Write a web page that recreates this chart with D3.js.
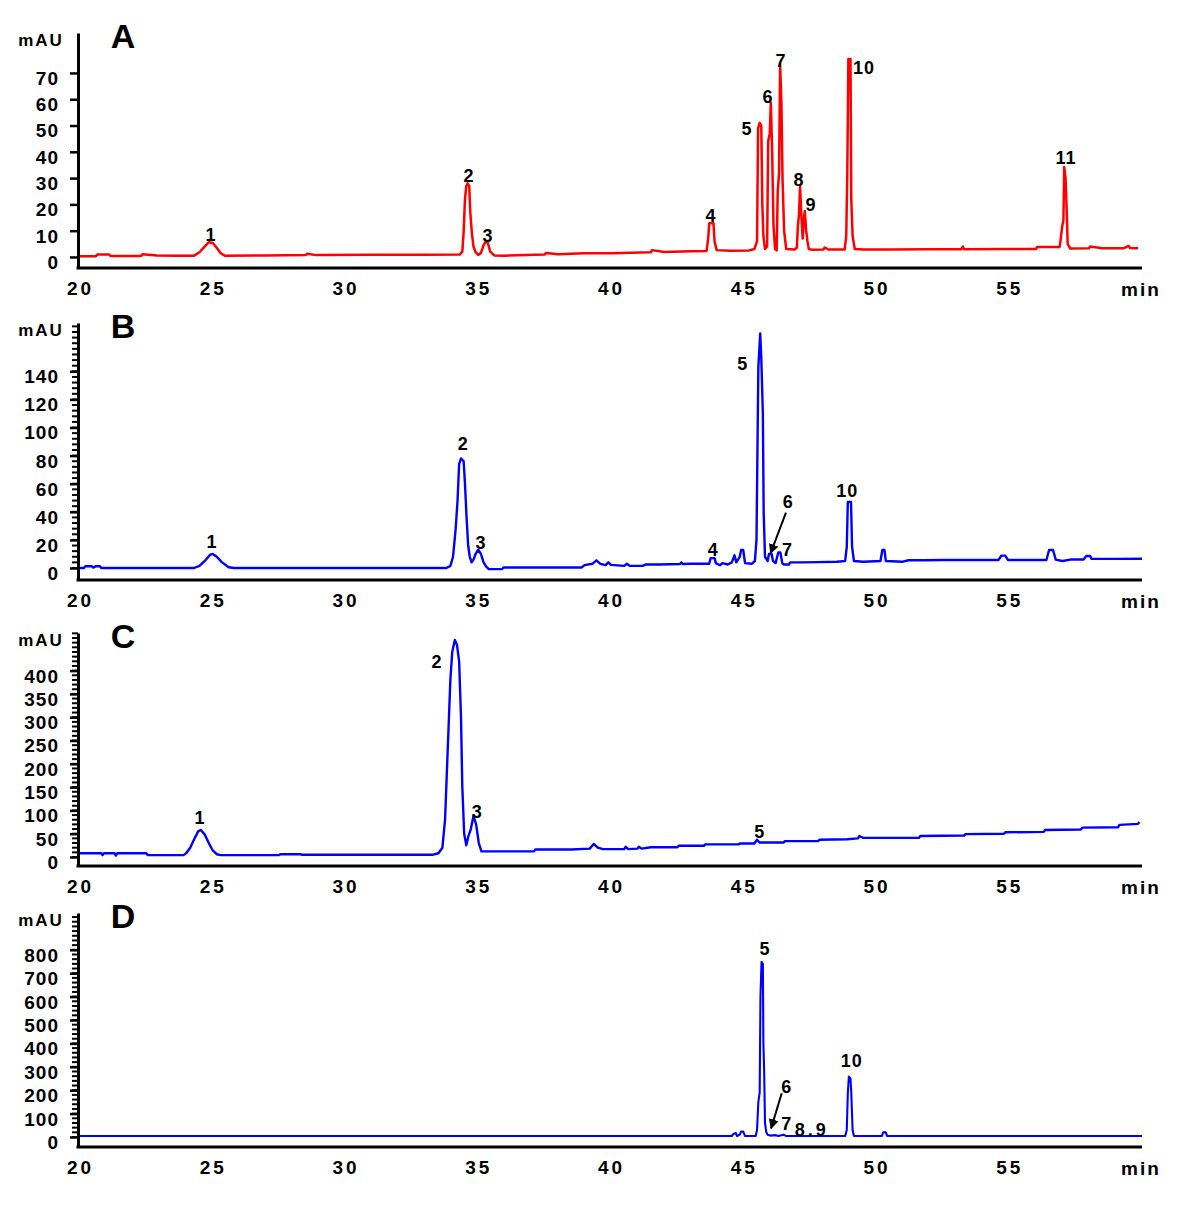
<!DOCTYPE html>
<html>
<head>
<meta charset="utf-8">
<script src="https://cdn.jsdelivr.net/npm/d3@7"></script>
<style>
  body { margin: 0; background: #fff; }
  svg { display: block; font-family: "Liberation Sans", Arial, sans-serif; font-weight: bold; }
  .axis path, .axis line { stroke: #000; }
  .axis text { font-size: 19px; font-weight: bold; fill: #000; font-family: "Liberation Sans", Arial, sans-serif; }
</style>
</head>
<body>
<div id="chart"></div>
<script>
// ---------------------------------------------------------------------------
// Data: [time (min), absorbance (mAU)]
// ---------------------------------------------------------------------------

const xTicks = [20, 25, 30, 35, 40, 45, 50, 55];

const traceA = [
  [20.0, 0.3], [20.6, 0.3], [20.65, 0.9], [21.1, 0.9], [21.15, 0.4], [22.3, 0.4], [22.35, 1.0], [22.9, 0.6],
  [23.6, 0.5], [24.3, 0.5], [24.5, 1.8], [24.7, 4.0], [24.85, 5.6], [25.0, 5.3], [25.15, 3.5], [25.3, 1.4],
  [25.45, 0.5], [27.0, 0.6], [28.5, 0.7], [28.55, 1.2], [28.9, 0.7], [31.0, 0.8], [33.0, 0.8], [34.3, 0.9],
  [34.4, 2.0], [34.45, 9.5], [34.5, 22], [34.55, 27], [34.6, 28], [34.66, 27], [34.7, 17], [34.76, 9],
  [34.82, 4], [34.9, 1.8], [35.0, 0.8], [35.1, 1.5], [35.2, 4.5], [35.28, 5.8], [35.36, 5.3], [35.45, 2],
  [35.6, 0.6], [36.0, 0.5], [37.5, 0.9], [37.55, 1.5], [38.0, 1.0], [39.0, 1.4], [40.0, 1.4], [41.5, 1.8],
  [41.55, 2.6], [42.0, 1.9], [43.0, 2.2], [43.6, 2.3], [43.66, 7], [43.7, 12.8], [43.86, 12.8], [43.9, 6],
  [43.98, 2.6], [44.5, 2.4], [45.2, 2.5], [45.4, 3.0], [45.5, 6], [45.54, 49], [45.6, 51], [45.66, 50],
  [45.7, 20], [45.74, 8], [45.8, 3], [45.88, 4], [45.92, 44], [45.98, 47], [46.02, 58.7], [46.07, 40],
  [46.12, 12], [46.18, 3], [46.24, 2.5], [46.28, 25], [46.33, 32], [46.37, 73], [46.42, 58], [46.46, 30],
  [46.52, 10], [46.6, 3], [46.9, 2.8], [47.0, 3.5], [47.04, 12], [47.08, 16], [47.12, 27], [47.17, 16],
  [47.22, 7], [47.26, 14], [47.3, 17.5], [47.35, 10], [47.4, 6], [47.45, 3], [47.6, 2.7], [48.0, 2.8],
  [48.05, 3.6], [48.2, 2.8], [48.8, 2.8], [48.86, 8], [48.9, 32], [48.94, 75.3], [49.02, 75.3], [49.05, 22],
  [49.1, 8], [49.18, 3], [49.5, 2.8], [50.5, 2.8], [52.0, 2.9], [53.2, 2.9], [53.25, 4], [53.3, 2.9],
  [55.0, 3.0], [56.0, 3.0], [56.05, 3.8], [56.9, 3.8], [57.0, 12], [57.04, 14], [57.07, 34.2], [57.12, 30],
  [57.16, 19], [57.2, 5], [57.3, 3.2], [58.0, 3.3], [58.05, 4.0], [58.5, 3.3], [59.3, 3.3], [59.5, 4.2],
  [59.55, 3.4], [59.85, 3.3]
];

const traceB = [
  [20.0, 0], [20.15, 0], [20.2, 1.2], [20.45, 1.2], [20.5, 0.3], [20.6, 1.3], [20.75, 1.3], [20.8, 0],
  [24.3, 0], [24.5, 1.5], [24.7, 5], [24.9, 9.5], [25.0, 10], [25.15, 8], [25.35, 4], [25.6, 0.5],
  [25.8, 0], [33.8, 0], [33.95, 1.5], [34.05, 8], [34.15, 28], [34.22, 48], [34.28, 74], [34.35, 78],
  [34.45, 76], [34.5, 60], [34.56, 36], [34.62, 16], [34.68, 8], [34.75, 4], [34.82, 6], [34.9, 10],
  [35.0, 13], [35.1, 10], [35.2, 4], [35.3, 1], [35.4, -0.8], [35.9, -0.8], [35.95, 0.4], [38.9, 0.4],
  [39.0, 2], [39.3, 3], [39.45, 5.5], [39.6, 3], [39.8, 2], [39.9, 4], [40.0, 2.2], [40.5, 1.5],
  [40.6, 3], [40.7, 1.5], [41.2, 1.5], [41.3, 2.5], [41.8, 2.5], [42.6, 2.8], [42.65, 4], [42.7, 2.8],
  [43.0, 3.0], [43.7, 3.0], [43.75, 7], [43.9, 7], [43.95, 3.5], [44.1, 2], [44.2, 3.5], [44.4, 2.5],
  [44.55, 4], [44.65, 9], [44.72, 4], [44.85, 8], [44.9, 12.8], [44.98, 12.8], [45.05, 3.5], [45.3, 3],
  [45.42, 5], [45.48, 20], [45.55, 143], [45.62, 167], [45.66, 150], [45.72, 110], [45.75, 40], [45.8, 8],
  [45.9, 5], [45.95, 10], [46.05, 10], [46.1, 5], [46.2, 3.5], [46.3, 11], [46.38, 11], [46.45, 3.5],
  [46.5, 2.5], [46.7, 2.5], [46.75, 4], [47.2, 4], [47.8, 4.2], [48.5, 4.5], [48.82, 5], [48.88, 15],
  [48.92, 47], [49.04, 47], [49.08, 15], [49.15, 5], [49.5, 4.5], [50.15, 5], [50.22, 12.8], [50.3, 12.8],
  [50.35, 5], [51.0, 4.5], [51.2, 5.5], [51.8, 5.5], [52.5, 5.7], [54.6, 5.7], [54.7, 8.8], [54.85, 8.8],
  [54.95, 5.7], [56.4, 5.7], [56.5, 12.8], [56.65, 12.8], [56.75, 6], [57.0, 5], [57.3, 6], [57.8, 6],
  [57.9, 8.5], [58.05, 8.5], [58.1, 6.5], [59.0, 6.5], [60.0, 6.6]
];

const traceC = [
  [20.0, 8], [20.8, 8], [20.85, 4], [20.9, 8], [21.3, 8], [21.35, 3], [21.4, 8], [22.5, 8],
  [22.55, 4], [23.9, 4], [24.0, 8], [24.15, 20], [24.3, 38], [24.45, 55], [24.55, 58], [24.7, 48],
  [24.85, 30], [25.0, 14], [25.15, 6], [25.3, 4], [27.5, 4], [27.55, 6], [28.3, 6], [28.35, 5],
  [33.3, 5], [33.5, 8], [33.65, 20], [33.75, 80], [33.85, 230], [33.95, 380], [34.02, 440], [34.12, 466],
  [34.2, 455], [34.28, 420], [34.35, 300], [34.4, 150], [34.47, 50], [34.55, 25], [34.63, 45], [34.72, 60],
  [34.82, 88], [34.92, 70], [35.02, 30], [35.12, 12], [35.3, 12], [37.1, 12], [37.15, 16], [38.5, 16],
  [39.2, 18], [39.35, 28], [39.5, 20], [39.7, 17], [40.5, 17], [40.55, 22], [40.65, 17], [41.0, 18],
  [41.05, 22], [41.15, 18], [41.5, 21], [42.5, 21], [42.55, 24], [43.5, 24], [43.55, 27], [44.8, 27],
  [44.85, 29], [45.4, 29], [45.5, 37], [45.6, 31], [46.5, 31], [46.55, 34], [47.8, 34], [47.85, 37],
  [48.9, 38], [49.3, 40], [49.35, 45], [49.5, 41], [51.6, 41], [51.65, 45], [53.3, 46], [53.35, 49],
  [54.8, 50], [54.85, 53], [56.3, 54], [56.35, 58], [57.7, 59], [57.75, 63], [59.1, 64], [59.15, 69],
  [59.85, 71], [59.9, 75]
];

const traceD = [
  [20.0, 4], [44.55, 4], [44.6, 12], [44.7, 17], [44.75, 4], [44.85, 10], [44.9, 23], [44.98, 23],
  [45.05, 4], [45.45, 4], [45.5, 30], [45.55, 150], [45.6, 190], [45.63, 600], [45.67, 749], [45.72, 740],
  [45.74, 400], [45.77, 274], [45.8, 60], [45.85, 20], [45.9, 10], [46.0, 6], [46.2, 8], [46.3, 4],
  [46.5, 10], [46.6, 4], [48.82, 4], [48.88, 30], [48.92, 188], [48.96, 258], [49.02, 250], [49.05, 188],
  [49.1, 30], [49.15, 4], [50.2, 4], [50.25, 20], [50.35, 20], [50.4, 4], [60.0, 4]
];

const ticksA = [0, 10, 20, 30, 40, 50, 60, 70];
const ticksB = [0, 20, 40, 60, 80, 100, 120, 140];
const ticksC = [0, 50, 100, 150, 200, 250, 300, 350, 400];
const ticksD = [0, 100, 200, 300, 400, 500, 600, 700, 800];

// peak numbers: [label, time, mAU]
const peaksA = [["1", 24.93, 8.7], ["2", 34.65, 30.8], ["3", 35.37, 8.0], ["4", 43.77, 15.6], ["5", 45.12, 48.7],
  ["6", 45.91, 61.2], ["7", 46.40, 74.9], ["8", 47.08, 29.3], ["9", 47.53, 19.8], ["10", 49.53, 72.2], ["11", 57.14, 38.0]];
const peaksB = [["1", 24.97, 19.2], ["2", 34.44, 88.3], ["3", 35.1, 18.0], ["4", 43.85, 13.3], ["5", 44.96, 145.7],
  ["6", 46.68, 47.2], ["7", 46.65, 13.3], ["10", 48.9, 55.5]];
const peaksC = [["1", 24.52, 83.7], ["2", 33.45, 420], ["3", 34.96, 97], ["5", 45.6, 54]];
const peaksD = [["5", 45.8, 806], ["6", 46.62, 215], ["7", 46.62, 56], ["8.9", 47.56, 30], ["10", 49.07, 326]];

// arrows: [fromTime, fromMAU, toTime, toMAU]
const arrowsB = [[46.59, 39.4, 46.01, 10.5]];
const arrowsD = [[46.43, 187, 46.03, 37]];

// ---------------------------------------------------------------------------
// Layout
// ---------------------------------------------------------------------------

const width = 1200, height = 1224;
const axisX = 78;

const panels = [
  {letter: "A", trace: traceA, ticks: ticksA, minor: null, peaks: peaksA, arrows: [], color: "#ff0000",
   top: 33, bottom: 268, yDomain: [-4.2, 85.2], lw: 2.5},
  {letter: "B", trace: traceB, ticks: ticksB, minor: 4, peaks: peaksB, arrows: arrowsB, color: "#0000ff",
   top: 323, bottom: 580, yDomain: [-8.54, 174.4], lw: 2.4},
  {letter: "C", trace: traceC, ticks: ticksC, minor: 10, peaks: peaksC, arrows: [], color: "#0000ff",
   top: 633, bottom: 866, yDomain: [-19.3, 480.7], lw: 2.4},
  {letter: "D", trace: traceD, ticks: ticksD, minor: 20, peaks: peaksD, arrows: arrowsD, color: "#0000ff",
   top: 913, bottom: 1147, yDomain: [-42.7, 957.3], lw: 2.1}
];

const svg = d3.select("#chart").append("svg")
  .attr("width", width)
  .attr("height", height);

svg.append("rect").attr("width", width).attr("height", height).attr("fill", "#fff");

svg.append("defs").append("marker")
  .attr("id", "arrowhead")
  .attr("viewBox", "0 0 10 10")
  .attr("refX", 9).attr("refY", 5)
  .attr("markerWidth", 5).attr("markerHeight", 5)
  .attr("markerUnits", "strokeWidth")
  .attr("orient", "auto")
  .append("path")
  .attr("d", "M0,0L10,5L0,10z")
  .attr("fill", "#000");

const x = d3.scaleLinear().domain([20, 60]).range([80, 1142]);

panels.forEach(function(p) {
  const y = d3.scaleLinear().domain(p.yDomain).range([p.bottom, p.top]);
  const g = svg.append("g");

  // minor ticks on the y axis (dense ruler marks)
  if (p.minor) {
    g.append("g")
      .selectAll("line")
      .data(d3.range(0, p.yDomain[1], p.minor))
      .join("line")
      .attr("x1", axisX - 6).attr("x2", axisX)
      .attr("y1", d => y(d)).attr("y2", d => y(d))
      .attr("stroke", "#000")
      .attr("stroke-width", 2);
  }

  // major ticks + labels
  g.append("g")
    .attr("class", "axis")
    .attr("transform", "translate(" + axisX + ",0)")
    .call(d3.axisLeft(y).tickValues(p.ticks).tickSize(8).tickSizeOuter(0).tickPadding(11))
    .call(s => s.select(".domain").attr("stroke-width", 3))
    .call(s => s.selectAll("line").attr("stroke-width", 2.5))
    .call(s => s.selectAll("text").attr("dy", "0.6em").attr("letter-spacing", "1px"));

  // x axis
  g.append("g")
    .attr("class", "axis")
    .attr("transform", "translate(0," + p.bottom + ")")
    .call(d3.axisBottom(x).tickValues(xTicks).tickSize(0).tickSizeOuter(0).tickPadding(14).tickFormat(d3.format("d")))
    .call(s => s.select(".domain").attr("d", "M" + (axisX - 1.5) + ",0H1142").attr("stroke-width", 3))
    .call(s => s.selectAll("text").attr("letter-spacing", "3px"));

  g.append("text")
    .attr("x", 1141).attr("y", p.bottom + 28)
    .attr("text-anchor", "middle")
    .attr("font-size", 19).attr("letter-spacing", "2px")
    .text("min");

  g.append("text")
    .attr("x", 41).attr("y", p.top + 13)
    .attr("text-anchor", "middle")
    .attr("font-size", 17).attr("letter-spacing", "2px")
    .text("mAU");

  g.append("text")
    .attr("x", 123).attr("y", p.top + 15)
    .attr("text-anchor", "middle")
    .attr("font-size", 34)
    .text(p.letter);

  // chromatogram trace
  const line = d3.line().x(d => x(d[0])).y(d => y(d[1]));
  g.append("path")
    .datum(p.trace)
    .attr("fill", "none")
    .attr("stroke", p.color)
    .attr("stroke-width", p.lw)
    .attr("stroke-linejoin", "round")
    .attr("d", line);

  // peak numbers
  g.selectAll(".peak")
    .data(p.peaks)
    .join("text")
    .attr("class", "peak")
    .attr("x", d => x(d[1]))
    .attr("y", d => y(d[2]))
    .attr("dy", "0.36em")
    .attr("text-anchor", "middle")
    .attr("font-size", 18)
    .attr("letter-spacing", d => d[0] === "8.9" ? "3px" : "1px")
    .text(d => d[0]);

  // arrows
  g.selectAll(".arrow")
    .data(p.arrows)
    .join("line")
    .attr("class", "arrow")
    .attr("x1", d => x(d[0])).attr("y1", d => y(d[1]))
    .attr("x2", d => x(d[2])).attr("y2", d => y(d[3]))
    .attr("stroke", "#000")
    .attr("stroke-width", 2)
    .attr("marker-end", "url(#arrowhead)");
});
</script>
</body>
</html>
